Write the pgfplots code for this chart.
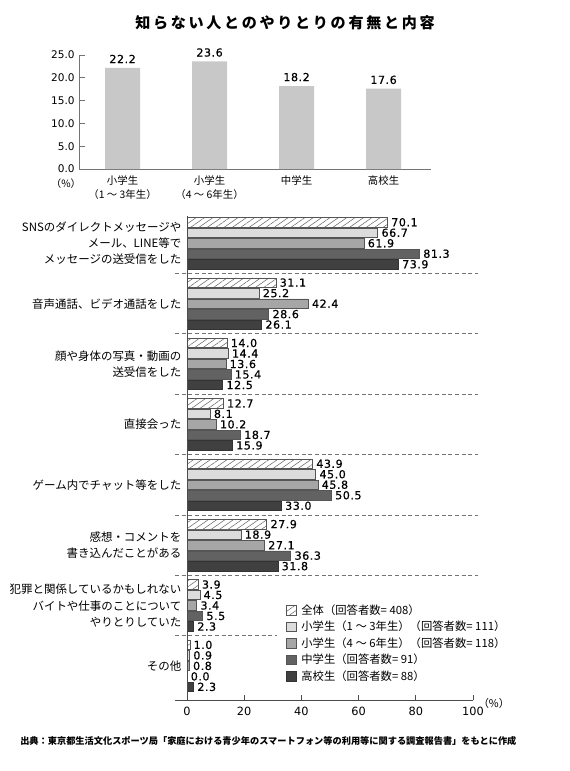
\documentclass[border=0pt]{standalone}
\usepackage{pgfplots}
\pgfplotsset{compat=1.18}
\usetikzlibrary{patterns.meta}
\usepackage{fontspec}
\setmainfont{Noto Sans CJK JP}
\newfontfamily\numfont{DejaVu Sans}
\newfontfamily\numfontb[FakeBold=0.6,LetterSpace=5]{DejaVu Sans}
\newfontfamily\titlefont[LetterSpace=18]{Noto Sans CJK JP}
\definecolor{topbar}{HTML}{C8C8C8}
\definecolor{cB}{HTML}{DCDCDC}
\definecolor{cC}{HTML}{A6A6A6}
\definecolor{cD}{HTML}{626262}
\definecolor{cE}{HTML}{404040}
\definecolor{edge}{HTML}{555555}
\begin{document}
\begin{tikzpicture}
\path[use as bounding box] (0,0) rectangle (427.5pt,-578.25pt);
% title
\node[font=\titlefont\bfseries\fontsize{11.3}{13}\selectfont] at (213.75pt,-16.9pt) {知らない人とのやりとりの有無と内容};
% ---------- top chart ----------
\begin{axis}[
  at={(59.5pt,-126.75pt)}, anchor=south west,
  scale only axis, width=263.8pt, height=85.5pt,
  xmin=-0.497, xmax=3.546, ymin=0, ymax=25,
  axis x line*=bottom, axis y line*=left,
  axis line style={-, black!55, line width=0.6pt},
  ytick={0,5,10,15,20,25},
  yticklabel style={/pgf/number format/.cd, fixed, fixed zerofill, precision=1},
  /pgf/number format/assume math mode=true,
  ticklabel style={font=\numfont\fontsize{7.9}{9}\selectfont},
  tick align=inside, major tick length=4.5pt,
  ytick style={black!55, line width=0.6pt},
  xtick={0,1,2,3},
  xticklabels={{小学生\\（1 ～ 3年生）},{小学生\\（4 ～ 6年生）},{中学生},{高校生}},
  xticklabel style={align=center, font=\fontsize{7.8}{10.5}\selectfont, anchor=north, yshift=3pt},
  xtick style={draw=none},
  ybar, bar width=0.402, bar shift=0pt,
  nodes near coords,
  nodes near coords style={font=\numfontb\fontsize{8.3}{9}\selectfont, /pgf/number format/.cd, fixed, fixed zerofill, precision=1},
  clip=false,
]
\addplot[fill=topbar, draw=none] coordinates {(0,22.2) (1,23.6) (2,18.2) (3,17.6)};
\end{axis}
\node[font=\fontsize{7.6}{9}\selectfont] at (49.5pt,-137.5pt) {（\%）};
% ---------- bottom chart ----------
\begin{axis}[
  at={(131.25pt,-525pt)}, anchor=south west,
  scale only axis, width=223.5pt, height=366.19pt,
  xmin=-4.2, xmax=100, ymin=-43.5, ymax=3,
  axis x line*=bottom, axis y line=none,
  axis line style={-, black!70, line width=0.6pt},
  xtick={0,20,40,60,80,100},
  /pgf/number format/assume math mode=true,
  xticklabel style={font=\numfont\fontsize{8.5}{10}\selectfont, yshift=-1.5pt},
  tick align=inside, major tick length=3.5pt,
  xtick style={black!70, line width=0.6pt},
  ytick=\empty,
  xbar, bar width=0.9, bar shift=0pt,
  nodes near coords={\pgfmathprintnumber[fixed,fixed zerofill,precision=1]{\pgfplotspointmeta}},
  nodes near coords style={font=\numfontb\fontsize{8.3}{9}\selectfont, anchor=west, xshift=2.6pt, inner sep=0pt, text=black},
  clip=false,
  legend cell align=left,
  legend style={at={(axis cs:34.5,-34.3)}, anchor=north west, draw=none, fill=none,
    font=\fontsize{8.5}{10}\selectfont, row sep=2.4pt, inner sep=0pt,
    nodes={inner sep=0.6pt},
    /tikz/every odd column/.append style={column sep=3pt}},
  legend image code/.code={\draw[#1] (0pt,-3.6pt) rectangle (7.5pt,3.6pt);},
]
\addplot[draw=edge, line width=0.5pt, fill=white, pattern={Lines[angle=35,distance=3.6pt,line width=0.4pt]}, pattern color=black!60] coordinates {
(70.1,2) (31.1,-3.75) (14.0,-9.5) (12.7,-15.25) (43.9,-21) (27.9,-26.75) (3.9,-32.5) (1.0,-38.25)};
\addlegendentry{全体（回答者数= 408）}
\addplot[draw=edge, line width=0.5pt, fill=cB] coordinates {
(66.7,1) (25.2,-4.75) (14.4,-10.5) (8.1,-16.25) (45.0,-22) (18.9,-27.75) (4.5,-33.5) (0.9,-39.25)};
\addlegendentry{小学生（1 ～ 3年生）（回答者数= 111）}
\addplot[draw=edge, line width=0.5pt, fill=cC] coordinates {
(61.9,0) (42.4,-5.75) (13.6,-11.5) (10.2,-17.25) (45.8,-23) (27.1,-28.75) (3.4,-34.5) (0.8,-40.25)};
\addlegendentry{小学生（4 ～ 6年生）（回答者数= 118）}
\addplot[draw=edge, line width=0.5pt, fill=cD] coordinates {
(81.3,-1) (28.6,-6.75) (15.4,-12.5) (18.7,-18.25) (50.5,-24) (36.3,-29.75) (5.5,-35.5) (0.0,-41.25)};
\addlegendentry{中学生（回答者数= 91）}
\addplot[draw=black!80, line width=0.5pt, fill=cE] coordinates {
(73.9,-2) (26.1,-7.75) (12.5,-13.5) (15.9,-19.25) (33.0,-25) (31.8,-30.75) (2.3,-36.5) (2.3,-42.25)};
\addlegendentry{高校生（回答者数= 88）}
% vertical axis line
\draw[black!70, line width=0.6pt] (axis cs:0,2.6) -- (axis cs:0,-43.5);
% separators
\draw[black!55, line width=0.5pt, dash pattern=on 3pt off 2pt] (axis cs:-4.2,-2.875) -- (axis cs:101.7,-2.875);
\draw[black!55, line width=0.5pt, dash pattern=on 3pt off 2pt] (axis cs:-4.2,-8.625) -- (axis cs:101.7,-8.625);
\draw[black!55, line width=0.5pt, dash pattern=on 3pt off 2pt] (axis cs:-4.2,-14.375) -- (axis cs:101.7,-14.375);
\draw[black!55, line width=0.5pt, dash pattern=on 3pt off 2pt] (axis cs:-4.2,-20.125) -- (axis cs:101.7,-20.125);
\draw[black!55, line width=0.5pt, dash pattern=on 3pt off 2pt] (axis cs:-4.2,-25.875) -- (axis cs:101.7,-25.875);
\draw[black!55, line width=0.5pt, dash pattern=on 3pt off 2pt] (axis cs:-4.2,-31.625) -- (axis cs:101.7,-31.625);
\draw[black!55, line width=0.5pt, dash pattern=on 3pt off 2pt] (axis cs:-4.2,-37.375) -- (axis cs:31.5,-37.375);
% category labels
\node[anchor=east, align=right, font=\fontsize{8.6}{12.2}\selectfont, inner sep=0pt] at (axis cs:-1.9,0) {SNSのダイレクトメッセージや\\メール、LINE等で\\メッセージの送受信をした};
\node[anchor=east, align=right, font=\fontsize{8.6}{12.2}\selectfont, inner sep=0pt] at (axis cs:-1.9,-5.75) {音声通話、ビデオ通話をした};
\node[anchor=east, align=right, font=\fontsize{8.6}{12.2}\selectfont, inner sep=0pt] at (axis cs:-1.9,-11.5) {顔や身体の写真・動画の\\送受信をした};
\node[anchor=east, align=right, font=\fontsize{8.6}{12.2}\selectfont, inner sep=0pt] at (axis cs:-1.9,-17.25) {直接会った};
\node[anchor=east, align=right, font=\fontsize{8.6}{12.2}\selectfont, inner sep=0pt] at (axis cs:-1.9,-23) {ゲーム内でチャット等をした};
\node[anchor=east, align=right, font=\fontsize{8.6}{12.2}\selectfont, inner sep=0pt] at (axis cs:-1.9,-28.75) {感想・コメントを\\書き込んだことがある};
\node[anchor=east, align=right, font=\fontsize{8.6}{12.2}\selectfont, inner sep=0pt] at (axis cs:-1.9,-34.5) {犯罪と関係しているかもしれない\\バイトや仕事のことについて\\やりとりしていた};
\node[anchor=east, align=right, font=\fontsize{8.6}{12.2}\selectfont, inner sep=0pt] at (axis cs:-1.9,-40.25) {その他};
\end{axis}
\node[anchor=west, font=\fontsize{8}{9}\selectfont, inner sep=0pt] at (358.5pt,-527.5pt) {（\%）};
% source
\node[anchor=west, font=\bfseries\fontsize{6.9}{8}\selectfont, inner sep=0pt] at (15pt,-555.75pt) {出典：東京都生活文化スポーツ局「家庭における青少年のスマートフォン等の利用等に関する調査報告書」をもとに作成};
\end{tikzpicture}
\end{document}
